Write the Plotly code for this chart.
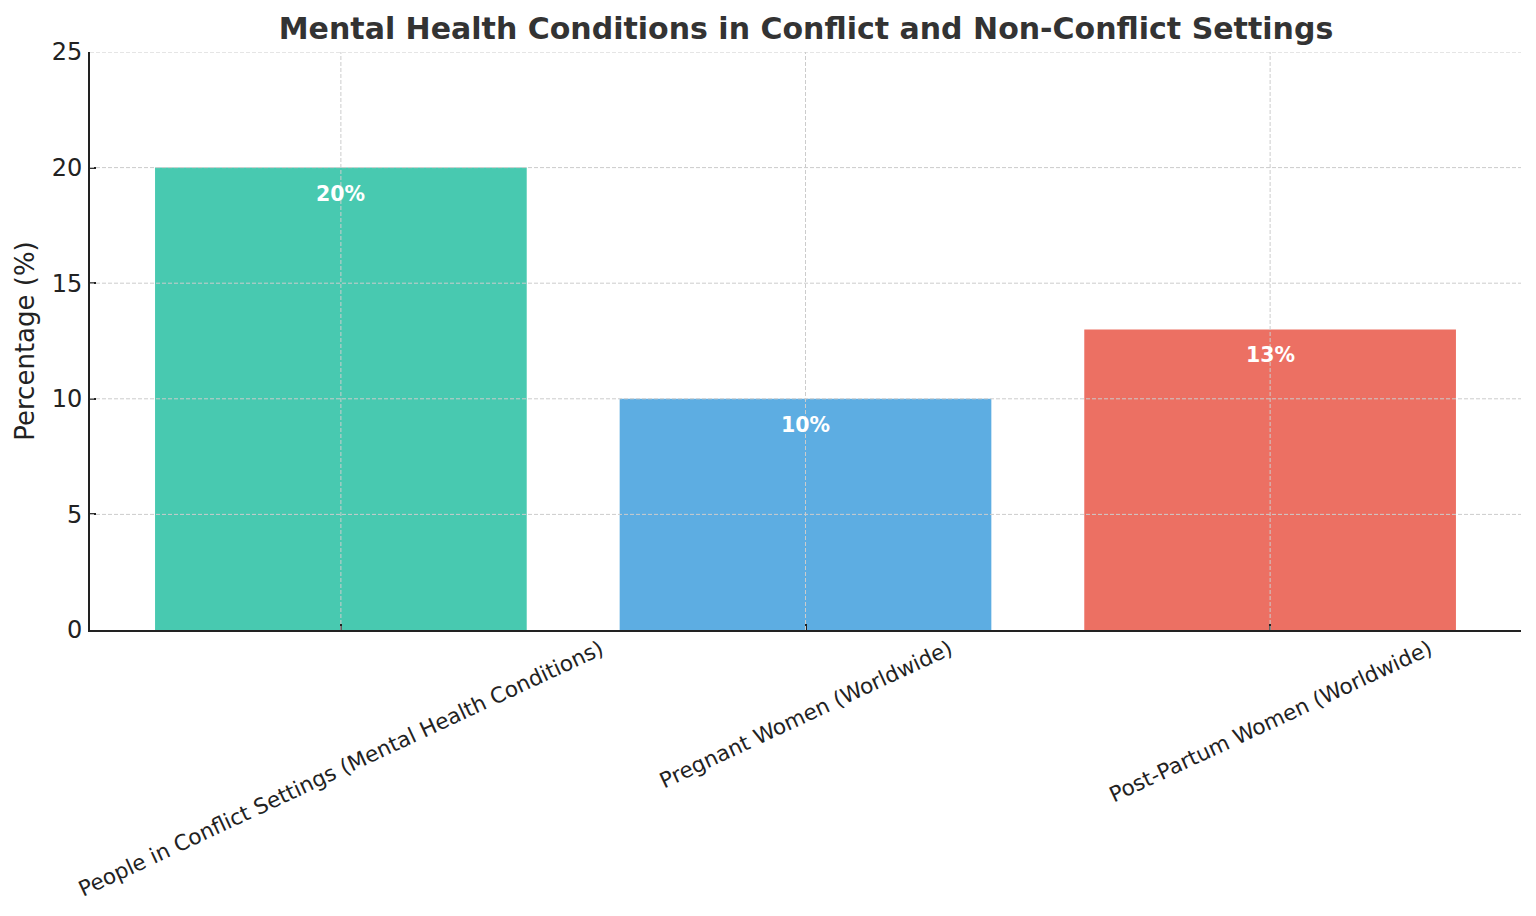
import plotly.graph_objects as go

categories = [
    "People in Conflict Settings (Mental Health Conditions)",
    "Pregnant Women (Worldwide)",
    "Post-Partum Women (Worldwide)",
]
values = [20, 10, 13]
colors = ["#48C9B0", "#5DADE2", "#EC7063"]
y_ticks = [0, 5, 10, 15, 20, 25]

FONT = "DejaVu Sans"
W, H = 1520, 900  # page body adds an 8px margin

fig = go.Figure()
fig.add_trace(go.Bar(
    x=list(range(len(categories))),
    y=values,
    marker=dict(color=colors, line=dict(width=0)),
    width=0.8,
    hoverinfo="skip",
))

annotations = []
# value labels inside bars
for i, v in enumerate(values):
    annotations.append(dict(
        x=i, y=v, xref="x", yref="y", text=f"<b>{v}%</b>",
        showarrow=False, yanchor="top", xanchor="center", yshift=-12,
        font=dict(family=FONT, size=20.5, color="white"),
    ))
# rotated category labels, centred on ticks
for i, c in enumerate(categories):
    annotations.append(dict(
        x=i, y=0, xref="x", yref="paper", text=c, textangle=-25,
        showarrow=False, yanchor="top", xanchor="center", yshift=-3,
        font=dict(family=FONT, size=21.5, color="#222"),
    ))

shapes = []
grid_style = dict(color="#cccccc", width=1, dash="4px,2px")
for t in y_ticks[1:]:
    shapes.append(dict(type="line", xref="paper", yref="y", x0=0, x1=1, y0=t, y1=t,
                       line=grid_style, layer="above"))
for i in range(len(categories)):
    shapes.append(dict(type="line", xref="x", yref="paper", x0=i, x1=i, y0=0, y1=1,
                       line=grid_style, layer="above"))

fig.update_layout(
    width=W, height=H,
    margin=dict(l=82, r=7, t=44, b=278),
    paper_bgcolor="white", plot_bgcolor="white",
    font=dict(family=FONT, color="#222"),
    showlegend=False,
    title=dict(
        text="<b>Mental Health Conditions in Conflict and Non-Conflict Settings</b>",
        x=798 / W, xanchor="center", y=1 - 20 / H, yanchor="middle",
        font=dict(family=FONT, size=30, color="#333333"),
    ),
    xaxis=dict(
        range=[-0.54, 2.54], tickvals=list(range(len(categories))),
        showticklabels=False, ticks="inside", ticklen=6, tickwidth=1.5, tickcolor="#222",
        showgrid=False, showline=True, linecolor="#222", linewidth=2,
        zeroline=False, layer="above traces",
    ),
    yaxis=dict(
        range=[0, 25], tickvals=y_ticks, ticks="inside", ticklen=6, tickwidth=1.5,
        tickcolor="#222",
        tickfont=dict(family=FONT, size=24, color="#222"),
        ticklabelstandoff=1,
        showgrid=False, showline=True, linecolor="#222", linewidth=2,
        zeroline=False, layer="above traces",
        title=dict(text="Percentage (%)", font=dict(family=FONT, size=26, color="#222"),
                   standoff=10),
    ),
    annotations=annotations,
    shapes=shapes,
)

fig.write_html("out.html")
